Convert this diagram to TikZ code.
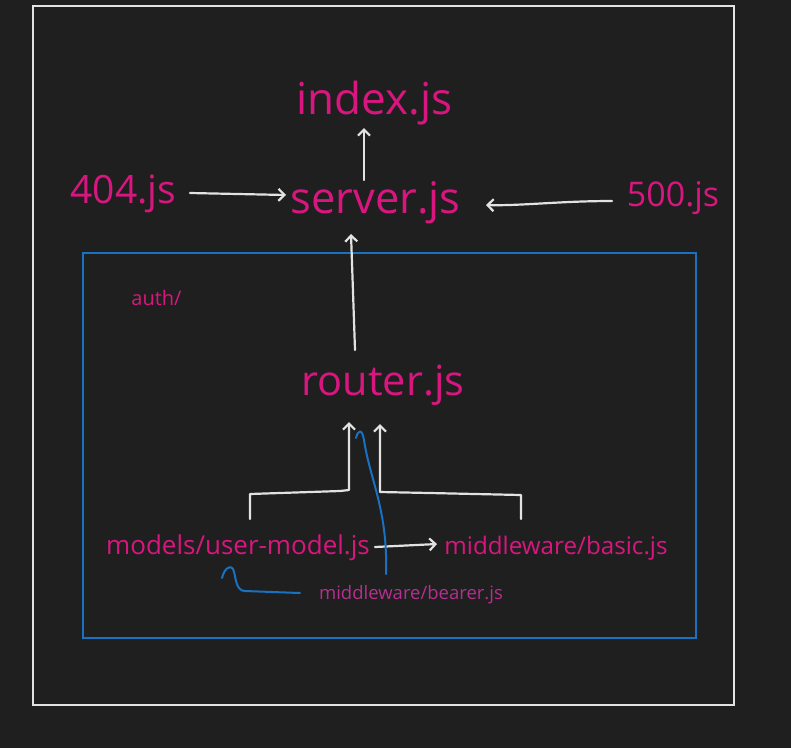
\documentclass[tikz,border=0pt]{standalone}
\usepackage{fontspec}
\setmainfont{Open Sans}
\usetikzlibrary{arrows.meta}
\definecolor{bg}{HTML}{1F1F1F}
\definecolor{pinkt}{HTML}{D9167F}
\definecolor{beart}{HTML}{B52F8F}
\definecolor{wline}{HTML}{E2E2E2}
\definecolor{bline}{HTML}{1971C2}
\tikzset{
  lbl/.style={text=pinkt, inner sep=0pt, anchor=center},
  wa/.style={draw=wline, line width=2.2pt, line cap=round, line join=round, -{Straight Barb[length=6pt,width=12pt]}},
  ba/.style={draw=bline, line width=2pt, line cap=round, line join=round},
}
\begin{document}
\begin{tikzpicture}[x=1pt,y=-1pt]
\fill[bg] (0,0) rectangle (791,748);
\useasboundingbox (0,0) rectangle (791,748);
% frames
\draw[wline, line width=2pt] (33,6) rectangle (734,705);
\draw[bline, line width=2pt] (83,253) rectangle (696,638);
% texts
\node[lbl, font=\fontsize{44}{50}\selectfont] (index) at (374.5,103) {index.js};
\node[lbl, font=\fontsize{43.5}{50}\selectfont] (server) at (375.5,203) {server.js};
\node[lbl, font=\fontsize{39}{45}\selectfont] (f404) at (123.5,194) {404.js};
\node[lbl, font=\fontsize{34}{40}\selectfont] (f500) at (673,198) {500.js};
\node[lbl, font=\fontsize{41.5}{48}\selectfont] (router) at (383,385) {router.js};
\node[lbl, font=\fontsize{20}{24}\selectfont] (auth) at (156.5,298) {auth/};
\node[lbl, font=\fontsize{26}{31}\selectfont] (models) at (238,548) {models/user-model.js};
\node[lbl, font=\fontsize{24.2}{29}\selectfont] (basic) at (556,548) {middleware/basic.js};
\node[lbl, text=beart, font=\fontsize{18.5}{22}\selectfont] (bearer) at (411,595) {middleware/bearer.js};
% connector anchors
\coordinate (idxin) at (364,128);
\coordinate (idxout) at (364,180);
\coordinate (srvL) at (286,195);
\coordinate (srvR) at (486,205);
\coordinate (srvB) at (351,234);
\coordinate (rtT) at (355,350);
\coordinate (rtL) at (349,422);
\coordinate (rtR) at (380,424);
\coordinate (mdR) at (375,547);
\coordinate (bsL) at (437,544);
\coordinate (mdB) at (250,519);
\coordinate (bsB) at (521,519);
% white arrows
\draw[wa] (idxout) -- (idxin);
\draw[wa] (190,193) -- (srvL);
\draw[wa] (612,201) .. controls (560,201) and (520,206) .. (srvR);
\draw[wa] (rtT) -- (srvB);
\draw[wa] (mdB) -- (250,494) -- (340,491) -- (349,490) -- (rtL);
\draw[wa] (bsB) -- (521,495) -- (430,493) -- (380,492) -- (rtR);
\draw[wa] (mdR) -- (bsL);
% blue curves
\draw[ba] (386,574) .. controls (388,510) and (370,480) .. (364,440) .. controls (362,428) and (358,430) .. (356,438);
\draw[ba] (300,593) -- (245,591) .. controls (235,591) and (236,575) .. (233,569) .. controls (229,564) and (224,570) .. (222,578);
\end{tikzpicture}
\end{document}
